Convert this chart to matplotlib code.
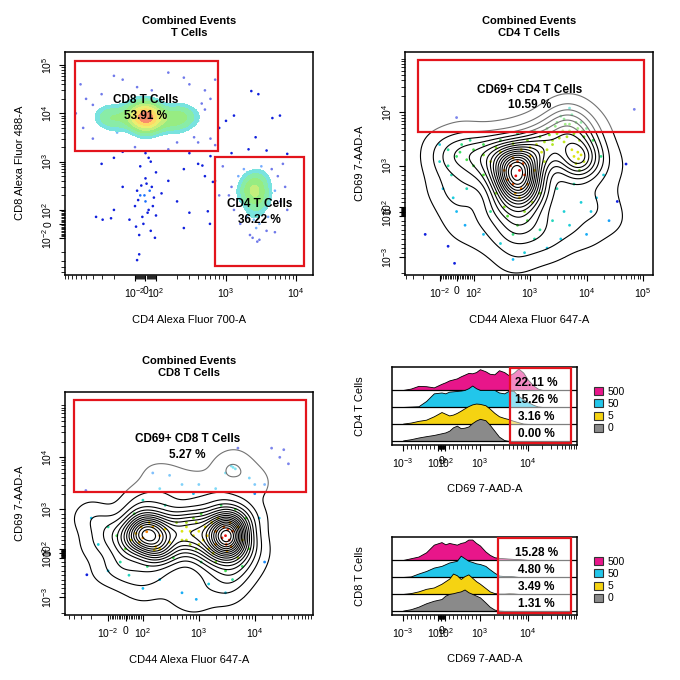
import numpy as np
import matplotlib
matplotlib.use("Agg")
import matplotlib.pyplot as plt
from matplotlib.colors import LinearSegmentedColormap
from matplotlib.patches import Rectangle, Patch

plt.rcParams['font.family'] = ['Liberation Sans', 'DejaVu Sans']
plt.rcParams['mathtext.fontset'] = 'custom'
plt.rcParams['mathtext.rm'] = 'Liberation Sans'
plt.rcParams['mathtext.it'] = 'Liberation Sans:italic'
plt.rcParams['mathtext.bf'] = 'Liberation Sans:bold'

# ======================= DATA =======================
# Panel A : T cells, CD4 Alexa Fluor 700-A (x) vs CD8 Alexa Fluor 488-A (y)
A_cd8_core = [(-50, 8000), (0, 9000), (30, 7000), (-80, 10000), (60, 9500), (-20, 6500), (100, 8000),
              (10, 11000), (-60, 7500), (40, 8500), (80, 6500), (-30, 9500), (0, 7800), (120, 9000),
              (-100, 8500), (20, 6000), (50, 10500), (-40, 11500), (150, 7500), (-120, 7000),
              (-200, 8000), (200, 8500), (-150, 9000), (180, 7000), (250, 8000), (-250, 7500)]
A_cd8_halo = [(-300, 9000), (-250, 12000), (-200, 6000), (-150, 15000), (200, 12000), (300, 8000),
              (250, 5000), (350, 10000), (-180, 4000), (180, 4500), (-60, 4000), (70, 3500), (0, 16000),
              (100, 18000), (-100, 20000), (220, 15000), (400, 7000), (-350, 7500), (130, 5500),
              (-10, 4500), (-220, 9500), (260, 9500)]
A_cd8_sparse = [(500, 12000), (600, 20000), (-400, 15000), (-600, 40000), (-500, 20000), (-200, 60000),
                (150, 70000), (300, 40000), (500, 30000), (700, 50000), (-300, 25000), (400, 2500),
                (600, 3000), (800, 5000), (-400, 3000), (200, 2500), (-700, 10000), (-150, 50000),
                (250, 55000), (60, 30000), (700, 2200), (-550, 5000), (450, 16000), (-80, 35000), (350, 3200)]
A_mid = [(-100, 2000), (0, 1500), (50, 1000), (150, 1800), (-200, 1200), (300, 1500), (400, 900),
         (-50, 800), (100, 600), (600, 1300), (250, 700), (-150, 1600), (500, 500), (700, 400),
         (-300, 900), (30, 1200)]
A_dn = [(-50, 200), (0, 150), (30, 100), (-80, 250), (60, 300), (-30, 50), (80, 180), (-100, 120),
        (10, 350), (120, 220), (-150, 300), (-20, 0), (50, -50), (-60, -80), (100, 60), (150, 400),
        (-120, 30), (0, 450), (200, 150), (-200, 100), (40, 250), (-40, 320), (90, -100), (-10, 200),
        (20, 80), (-70, 160), (70, 120), (-90, -20)]
A_low = [(-80, -290), (-60, -220), (-360, 50), (-290, 30), (-220, 40), (250, -30), (300, 80)]
A_cd4_core = [(2500, 250), (2800, 200), (2200, 300), (3000, 280), (2600, 150), (2400, 350), (3200, 180),
              (2700, 400), (2000, 220), (2900, 120), (2300, 180), (2600, 300), (2500, 80), (2800, 500)]
A_cd4_halo = [(1200, 300), (1500, 500), (1800, 700), (4000, 400), (5000, 250), (6000, 150), (3500, 600),
              (4500, 700), (1300, 100), (1600, 0), (2000, 50), (2500, 30), (3000, 0), (2200, -80),
              (2800, -120), (4000, 50), (5500, 500), (7000, 300), (1100, 200), (3800, -50), (2000, 600),
              (3200, 800), (2700, -30), (5000, -60), (1500, 200), (4200, 150), (2400, -100), (3000, -110)]
A_right = [(2300, 29000), (2900, 25000), (1300, 9000), (4600, 8000), (5900, 9000), (2650, 3200),
           (2100, 1800), (3800, 1700), (7500, 1450), (460, 830), (650, 380), (550, 90), (590, 0),
           (1200, 1500), (1000, 7000), (900, 800), (6500, 900), (800, 200), (7500, 100)]
A_weights = [4, 2, 0.6, 0.7, 0.6, 0.5, 3, 0.8, 0.5]

# Panel B : CD4 T cells, CD44 Alexa Fluor 647-A (x) vs CD69 7-AAD-A (y)
B_core = [(560, 780), (500, 600), (650, 900), (450, 1000), (700, 500), (600, 1200), (400, 700), (800, 800),
          (550, 400), (750, 1100), (350, 900), (500, 1400), (900, 600), (650, 300)]
B_mid = [(200, 1200), (150, 800), (250, 400), (300, 1800), (1000, 1500), (1200, 900), (1500, 400),
         (1100, 200), (800, 0), (400, -100), (600, -300), (250, 2200), (150, 1600), (100, 1000), (60, 500),
         (1800, 1200), (2000, 2000), (1300, 2500), (700, 2000), (350, 100), (900, -200), (500, -500),
         (200, 0), (1600, 1800)]
B_left = [(0, 1500), (-50, 2000), (-100, 1200), (30, 2500), (-80, 500), (0, 0), (50, -300), (-30, 800),
          (80, 3000), (-100, 2500), (-50, 1000), (20, 1800), (100, 2000), (60, 1300), (-20, 300)]
B_upper = [(1500, 3500), (2000, 5000), (3000, 4000), (3000, 6500), (4000, 7500), (5000, 6000), (5500, 9000),
           (2500, 3000), (4500, 3500), (7000, 5000), (8000, 6500), (1200, 4500), (3500, 8500), (5000, 12000),
           (900, 3000), (600, 4000), (9000, 3500), (10000, 5000), (2200, 3800), (2800, 5500), (3800, 4500),
           (4200, 6000), (6000, 4000), (6500, 6500), (5000, 4500), (3300, 3300), (1800, 2800), (2500, 2500),
           (7500, 3000), (8500, 4500), (4000, 2800), (1000, 2200), (500, 2600), (300, 3000), (150, 2500)]
B_second = [(7200, 1350), (6500, 1100), (8000, 1600), (7000, 1800), (7500, 900), (6000, 1500), (9000, 1200),
            (5500, 2000)]
B_right = [(3000, 500), (4000, 0), (5000, -300), (8000, 200), (10000, -500), (15000, 300), (20000, 800),
           (3500, -600), (12000, 0), (6000, 600), (2500, -200), (25000, -200), (18000, 1500), (13000, 3000)]
B_bottom = [(300, -700), (800, -900), (1200, -600), (150, -500), (500, -1100), (2000, -800), (1500, -400)]
B_out = [(70000, 11400), (50000, 1080), (35000, 220), (-180, -500), (-50, -760), (-12, -1300), (0, 8000)]
B_weights = [3.5, 1.8, 0.9, 0.6, 2, 1, 1, 0.2]

# Panel C : CD8 T cells, CD44 Alexa Fluor 647-A (x) vs CD69 7-AAD-A (y)
C_lcore = [(117, 490), (100, 350), (150, 600), (80, 250), (200, 400), (130, 700), (60, 450), (170, 150),
           (160, 75), (250, 550), (90, 600), (200, 100)]
C_lmid = [(30, 300), (0, 100), (-50, 400), (300, 250), (400, 700), (50, 900), (250, 1200), (100, 1500),
          (-100, 600), (-30, -200), (120, -300), (350, -100), (500, 300), (600, 700), (20, -500),
          (-150, 200), (-200, 800)]
C_middle = [(800, 400), (700, 200), (1000, 500), (900, 700), (1200, 300), (600, 600), (1500, 100), (1100, -200),
            (700, 500), (1300, 600), (1000, 200), (800, 800), (600, 300), (1400, 400), (1100, 900), (900, 100),
            (500, 500), (2000, 200), (1700, 700)]
C_rcore = [(3300, 540), (3000, 400), (3600, 700), (2800, 600), (3500, 300), (3200, 50), (3100, 200),
           (4000, 500), (2600, 350), (3800, 150)]
C_rmid = [(2000, 500), (2200, 800), (5000, 600), (6000, 300), (4500, 1000), (2500, 1200), (5000, -100),
          (2000, -200), (3000, -400), (7000, 800), (8000, 100), (1800, 0), (4000, -600), (6000, -300)]
C_upper = [(200, 2500), (500, 3000), (150, 5000), (300, 4500), (1000, 3000), (2000, 2500), (3000, 5000),
           (4100, 6400), (4500, 6000), (3800, 6800), (8000, 4000), (800, 2000), (10000, 3000)]
C_bottom = [(100, -800), (500, -900), (900, -1100), (1500, -700), (3000, -900), (200, -600), (-100, -400)]
C_out = [(20000, 15000), (33000, 14000), (40000, 7500), (28000, 10000), (15000, 3000), (-240, -490),
         (-250, 2300), (10000, 2000), (12000, 800), (15000, -200), (5000, 15000)]
C_weights = [3, 1.6, 1.0, 3, 1.6, 0.6, 1, 0.12]

# Gates (x0, x1, y0, y1) and labels
gate_cd8 = (-720, 770, 1680, 1.2e5)
gate_cd4 = (690, 13000, -385, 1260)
gate_cd69_cd4 = (-240, 1.04e5, 4260, 9.6e4)
gate_cd69_cd8 = (-400, 8.4e4, 2200, 1.25e5)
pct_tcells = ["53.91 %", "36.22 %"]
pct_cd69_cd4 = "10.59 %"
pct_cd69_cd8 = "5.27 %"

# Histograms (CD69 7-AAD-A), ridge per dose
doses = ["0", "5", "50", "500"]
dose_colors = ["#8a8a8a", "#f5d312", "#22c6ea", "#e8168a"]
hist_x = [-1000, -800, -600, -400, -200, 0, 100, 200, 300, 400, 500, 600, 700, 800, 900, 1000,
          1300, 1600, 2000, 2500, 3200, 4000, 5000, 6300, 8000, 10000, 13000, 16000, 20000]
cd4_h0 = [0.03, 0.1, 0.2, 0.28, 0.35, 0.45, 0.5, 0.6, 0.8, 0.9, 0.75, 0.78, 0.85, 1.05, 1.2, 1.3,
          1.22, 0.95, 0.6, 0.25, 0.05, 0, 0, 0, 0, 0, 0, 0, 0]
cd4_h5 = [0.02, 0.08, 0.18, 0.25, 0.45, 0.7, 0.6, 0.5, 0.55, 0.65, 0.78, 0.92, 1.05, 1.15, 1.2, 1.18,
          1.1, 0.9, 0.65, 0.45, 0.35, 0.28, 0.18, 0.1, 0.02, 0, 0, 0, 0]
cd4_h50 = [0.0, 0.02, 0.04, 0.35, 0.8, 0.85, 0.8, 0.9, 0.92, 0.94, 0.96, 1.0, 1.1, 1.26, 1.1, 1.0,
           1.0, 1.0, 1.0, 0.85, 0.8, 0.95, 0.95, 0.65, 0.45, 0.28, 0.12, 0.03, 0.0]
cd4_h500 = [0.0, 0.08, 0.24, 0.22, 0.15, 0.36, 0.45, 0.56, 0.62, 0.68, 0.8, 0.9, 1.0, 0.98, 1.05, 1.22,
            1.1, 0.95, 0.92, 1.16, 1.05, 0.86, 1.0, 1.26, 1.02, 0.6, 0.26, 0.08, 0.0]
cd8_h0 = [0.02, 0.1, 0.25, 0.45, 0.6, 0.7, 0.9, 1.0, 1.04, 1.1, 1.15, 1.26, 1.1, 1.0, 0.9, 0.8,
          0.5, 0.25, 0.08, 0.02, 0, 0, 0, 0, 0, 0, 0, 0, 0]
cd8_h5 = [0.0, 0.05, 0.15, 0.3, 0.38, 0.6, 0.75, 0.9, 1.2, 1.1, 0.88, 1.05, 1.15, 0.95, 0.75, 0.6,
          0.35, 0.15, 0.05, 0.02, 0.02, 0.04, 0.03, 0, 0, 0, 0, 0, 0]
cd8_h50 = [0.0, 0.03, 0.2, 0.35, 0.55, 0.65, 0.75, 0.85, 0.9, 0.95, 1.25, 1.1, 0.95, 0.88, 0.8, 0.76,
           0.65, 0.45, 0.25, 0.08, 0.05, 0.06, 0.04, 0.0, 0, 0, 0, 0, 0]
cd8_h500 = [0.0, 0.1, 0.2, 0.45, 0.9, 1.05, 0.92, 1.0, 0.95, 0.9, 1.0, 1.05, 1.2, 1.2, 1.0, 0.85,
            0.5, 0.3, 0.16, 0.12, 0.1, 0.08, 0.06, 0.05, 0.03, 0.0, 0, 0, 0]
cd4_pct = ["0.00 %", "3.16 %", "15.26 %", "22.11 %"]
cd8_pct = ["1.31 %", "3.49 %", "4.80 %", "15.28 %"]
hist_gate_cd4 = (4200, 78000)
hist_gate_cd8 = (2350, 78000)

# ======================= STYLE / HELPERS =======================
W = H = 680.0
GATE_RED = "#e3141c"
dens_cmap = LinearSegmentedColormap.from_list(
    "dens", ["#1020dd", "#1a6cff", "#18c8f0", "#30e090", "#50e030", "#c8e620", "#ffe000", "#ff9000", "#ee1010"])

fig = plt.figure(figsize=(6.8, 6.8), dpi=100)


def add_axes(l, t, r, b):
    return fig.add_axes([l / W, 1 - b / H, (r - l) / W, (b - t) / H])


def set_ticks(axis, majors, labels, lim):
    axis.set_ticks(majors)
    axis.set_ticklabels(labels)
    lo, hi = min(lim), max(lim)
    minors = []
    for e in range(1, 6):
        for k in range(1, 10):
            for s in (1, -1):
                v = s * k * 10 ** e
                if lo <= v <= hi and v not in majors:
                    minors.append(v)
    axis.set_ticks(minors, minor=True)


def style_axes(ax):
    for sp in ax.spines.values():
        sp.set_linewidth(1.1)
    ax.tick_params(which="major", length=4.5, width=0.8, labelsize=7.5, pad=3.5, direction="out",
                   top=False, right=False)
    ax.tick_params(which="minor", length=2.8, width=0.6, direction="out", top=False, right=False)
    for lab in ax.get_yticklabels():
        lab.set_rotation(90)
        lab.set_va("center")


def density(ax, groups, weights, bw, n=220):
    pts = np.array([p for g in groups for p in g], float)
    wts = np.concatenate([np.full(len(g), w, float) for g, w in zip(groups, weights)])
    tx, ty = ax.xaxis.get_transform(), ax.yaxis.get_transform()
    xl = tx.transform(np.array(ax.get_xlim(), float))
    yl = ty.transform(np.array(ax.get_ylim(), float))
    px = (tx.transform(pts[:, 0]) - xl[0]) / (xl[1] - xl[0])
    py = (ty.transform(pts[:, 1]) - yl[0]) / (yl[1] - yl[0])
    g = np.linspace(0, 1, n)
    GU, GV = np.meshgrid(g, g)
    D = np.zeros_like(GU)
    for a, b, w in zip(px, py, wts):
        D += w * np.exp(-((GU - a) ** 2 + (GV - b) ** 2) / (2 * bw ** 2))
    pdens = np.array([np.sum(wts * np.exp(-((px - a) ** 2 + (py - b) ** 2) / (2 * bw ** 2)))
                      for a, b in zip(px, py)])
    GX = tx.inverted().transform(xl[0] + g * (xl[1] - xl[0]))
    GY = ty.inverted().transform(yl[0] + g * (yl[1] - yl[0]))
    return pts, pdens, GX, GY, D


def gate(ax, g, alpha=0.4):
    x0, x1, y0, y1 = g
    ax.add_patch(Rectangle((x0, y0), x1 - x0, y1 - y0, facecolor=(1, 1, 1, alpha),
                           edgecolor=GATE_RED, linewidth=1.6, zorder=5))


def label(ax, x, y, s):
    ax.text(x, y, s, ha="center", va="center", fontsize=8.5, fontweight="bold", zorder=6)


def title(xc, yc, text):
    fig.text(xc / W, 1 - yc / H, text, ha="center", va="center", fontsize=8,
             fontweight="bold", linespacing=1.35)


# ======================= PANEL A =======================
axA = add_axes(65, 52, 313, 275)
axA.set_xscale("symlog", linthresh=100, linscale=0.135)
axA.set_yscale("symlog", linthresh=100, linscale=0.26)
axA.set_xlim(-1000, 17500)
axA.set_ylim(-590, 1.87e5)
groupsA = [A_cd8_core, A_cd8_halo, A_cd8_sparse, A_mid, A_dn, A_low, A_cd4_core, A_cd4_halo, A_right]
ptsA, pdA, GXA, GYA, DA = density(axA, groupsA, A_weights, 0.036)
cA = (pdA / pdA.max()) ** 0.8
cA = np.where(cA < 0.12, 0.0, cA)
axA.scatter(ptsA[:, 0], ptsA[:, 1], s=3.5, c=dens_cmap(cA), linewidths=0, zorder=2)
lv = DA.max() * np.array([0.13, 0.2, 0.3, 0.42, 0.56, 0.7, 0.86, 1.01])
axA.contourf(GXA, GYA, DA, levels=lv,
             colors=[dens_cmap(v) for v in [0.3, 0.42, 0.5, 0.58, 0.68, 0.8, 0.95]], zorder=3)
gate(axA, gate_cd8)
gate(axA, gate_cd4)
label(axA, 0, 19000, "CD8 T Cells")
label(axA, 0, 8700, pct_tcells[0])
label(axA, 3000, 133, "CD4 T Cells")
label(axA, 3000, 29, pct_tcells[1])
lab_dec = ["$10^{-2}$", "0", "$10^{2}$", "$10^{3}$", "$10^{4}$", "$10^{5}$"]
set_ticks(axA.xaxis, [-100, 0, 100, 1000, 10000], lab_dec[:5], axA.get_xlim())
set_ticks(axA.yaxis, [-100, 0, 100, 1000, 10000, 100000], lab_dec, axA.get_ylim())
style_axes(axA)
title(189, 27, "Combined Events\nT Cells")
fig.text(189 / W, 1 - 320 / H, "CD4 Alexa Fluor 700-A", ha="center", va="center", fontsize=8)
fig.text(20 / W, 1 - 163 / H, "CD8 Alexa Fluor 488-A", ha="center", va="center", fontsize=8, rotation=90)

# ======================= PANELS B & C =======================
lab_b = ["$10^{-3}$", "$10^{-2}$", "0", "$10^{2}$", "$10^{3}$", "$10^{4}$"]


def contour_panel(box, xscale, yscale, xlim, ylim, groups, weights, bw, g, lab_xy, text, pct, xmaj, xlab):
    ax = add_axes(*box)
    ax.set_xscale("symlog", linthresh=xscale[0], linscale=xscale[1])
    ax.set_yscale("symlog", linthresh=yscale[0], linscale=yscale[1])
    ax.set_xlim(*xlim)
    ax.set_ylim(*ylim)
    pts, pdn, GX, GY, D = density(ax, groups, weights, bw)
    c = (pdn / pdn.max()) ** 0.55
    c = np.where(c < 0.15, 0.0, c)
    ax.scatter(pts[:, 0], pts[:, 1], s=4, c=dens_cmap(c), linewidths=0, zorder=2)
    ax.contour(GX, GY, D, levels=D.max() * np.linspace(0.025, 0.95, 17), colors="k", linewidths=0.8, zorder=3)
    gate(ax, g, 0.45)
    label(ax, lab_xy[0], lab_xy[1], text)
    label(ax, lab_xy[0], lab_xy[2], pct)
    set_ticks(ax.xaxis, xmaj, xlab, xlim)
    set_ticks(ax.yaxis, [-1000, -100, 0, 100, 1000, 10000], lab_b, ylim)
    style_axes(ax)
    return ax


axB = contour_panel((405, 52, 653, 275), (100, 0.27), (1000, 0.77), (-410, 1.5e5), (-2150, 1.35e5),
                    [B_core, B_mid, B_left, B_upper, B_second, B_right, B_bottom, B_out], B_weights, 0.056,
                    gate_cd69_cd4, (1000, 26600, 13500), "CD69+ CD4 T Cells", pct_cd69_cd4,
                    [-100, 0, 100, 1000, 10000, 100000], lab_dec)
title(529, 27, "Combined Events\nCD4 T Cells")
fig.text(529 / W, 1 - 320 / H, "CD44 Alexa Fluor 647-A", ha="center", va="center", fontsize=8)
fig.text(360 / W, 1 - 163 / H, "CD69 7-AAD-A", ha="center", va="center", fontsize=8, rotation=90)

axC = contour_panel((65, 392, 313, 615), (100, 0.28), (1000, 0.76), (-590, 1.1e5), (-2200, 1.8e5),
                    [C_lcore, C_lmid, C_middle, C_rcore, C_rmid, C_upper, C_bottom, C_out], C_weights, 0.05,
                    gate_cd69_cd8, (620, 22000, 10900), "CD69+ CD8 T Cells", pct_cd69_cd8,
                    [-100, 0, 100, 1000, 10000], lab_dec[:5])
title(189, 367, "Combined Events\nCD8 T Cells")
fig.text(189 / W, 1 - 660 / H, "CD44 Alexa Fluor 647-A", ha="center", va="center", fontsize=8)
fig.text(20 / W, 1 - 503 / H, "CD69 7-AAD-A", ha="center", va="center", fontsize=8, rotation=90)


# ======================= HISTOGRAMS =======================
def hist_panel(top, bottom, series, pcts, gx, ylab):
    ax = add_axes(392, top, 577, bottom)
    ax.set_xscale("symlog", linthresh=1000, linscale=0.72)
    ax.set_xlim(-1700, 1.05e5)
    ax.set_ylim(-0.24, 4.35)
    xs = np.array(hist_x, float)
    for i in range(3, -1, -1):
        h = np.array(series[i], float)
        z = 2 + (3 - i) * 0.1
        ax.fill_between(xs, i, i + h, facecolor=dose_colors[i], edgecolor="k", linewidth=0.6, zorder=z)
        ax.plot([-1700, 1.05e5], [i, i], color="k", linewidth=0.9, zorder=z)
    ax.add_patch(Rectangle((gx[0], -0.12), gx[1] - gx[0], 4.42, facecolor=(1, 1, 1, 0.5),
                           edgecolor=GATE_RED, linewidth=1.6, zorder=5))
    for i in range(4):
        ax.text(15000, i + 0.42, pcts[i], ha="center", va="center", fontsize=8.5, fontweight="bold", zorder=6)
    set_ticks(ax.xaxis, [-1000, -100, 0, 100, 1000, 10000], lab_b, ax.get_xlim())
    ax.set_yticks([])
    style_axes(ax)
    fig.text(360 / W, 1 - (top + bottom) / 2 / H, ylab, ha="center", va="center", fontsize=8, rotation=90)
    fig.text(485 / W, 1 - (bottom + 44) / H, "CD69 7-AAD-A", ha="center", va="center", fontsize=8)
    handles = [Patch(facecolor=dose_colors[i], edgecolor="#333333", linewidth=0.8, label=doses[i])
               for i in range(3, -1, -1)]
    fig.legend(handles=handles, loc="upper left", bbox_to_anchor=(594 / W, 1 - (top + 20) / H), frameon=False,
               fontsize=7.5, handlelength=0.9, handleheight=0.8, labelspacing=0.2, handletextpad=0.4,
               borderaxespad=0, borderpad=0)
    return ax


hist_panel(367, 445, [cd4_h0, cd4_h5, cd4_h50, cd4_h500], cd4_pct, hist_gate_cd4, "CD4 T Cells")
hist_panel(537, 615, [cd8_h0, cd8_h5, cd8_h50, cd8_h500], cd8_pct, hist_gate_cd8, "CD8 T Cells")

fig.savefig("out.png", dpi=100)
